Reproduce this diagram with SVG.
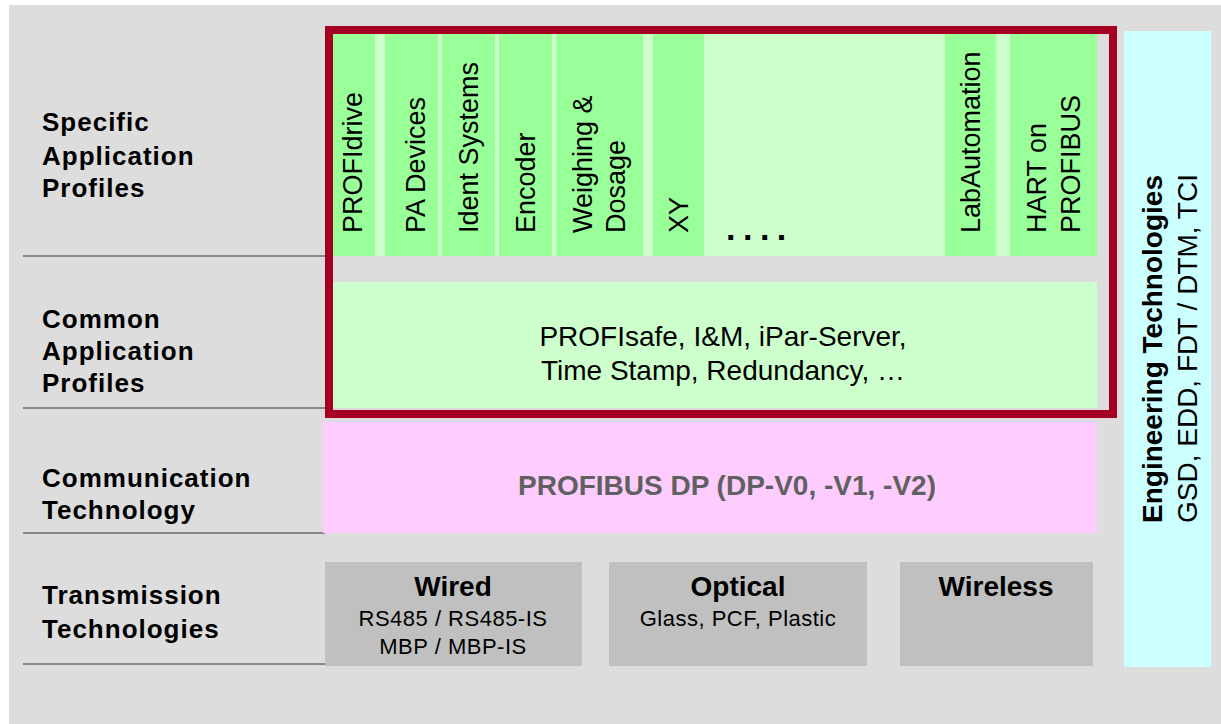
<svg xmlns="http://www.w3.org/2000/svg" width="1221" height="724" viewBox="0 0 1221 724">
<style>
.lbl{font-family:"Liberation Sans",Arial,sans-serif;font-weight:bold;font-size:26px;letter-spacing:1px;fill:#000}
.v{font-family:"Liberation Sans",Arial,sans-serif;font-size:27px;fill:#000}
.c{font-family:"Liberation Sans",Arial,sans-serif;font-size:28px;fill:#000;text-anchor:middle}
.b{font-family:"Liberation Sans",Arial,sans-serif;font-weight:bold;font-size:28px;fill:#000;text-anchor:middle}
.s{font-family:"Liberation Sans",Arial,sans-serif;font-size:22px;letter-spacing:0.5px;fill:#000;text-anchor:middle}
.dk{fill:#99FF99}
.lt{fill:#CCFFCC}
.tr{fill:#C0C0C0}
.sep{stroke:#888888;stroke-width:2}
</style>
<rect x="0" y="0" width="1221" height="724" fill="#FFFFFF"/>
<rect x="9" y="5" width="1212" height="719" fill="#DDDDDD"/>

<g id="separators">
<line class="sep" x1="23" y1="256" x2="325" y2="256"/>
<line class="sep" x1="23" y1="408" x2="325" y2="408"/>
<line class="sep" x1="23" y1="533" x2="325" y2="533"/>
<line class="sep" x1="23" y1="664" x2="325" y2="664"/>
</g>

<g id="row-labels">
<text class="lbl" x="42" y="131">Specific</text>
<text class="lbl" x="42" y="165">Application</text>
<text class="lbl" x="42" y="197">Profiles</text>
<text class="lbl" x="42" y="328">Common</text>
<text class="lbl" x="42" y="360">Application</text>
<text class="lbl" x="42" y="392">Profiles</text>
<text class="lbl" x="42" y="487">Communication</text>
<text class="lbl" x="42" y="519">Technology</text>
<text class="lbl" x="42" y="604">Transmission</text>
<text class="lbl" x="42" y="638">Technologies</text>
</g>

<g id="specific-profiles">
<rect class="lt" x="333" y="34" width="764" height="222"/>
<g id="profidrive"><rect class="dk" x="333" y="34" width="42" height="222"/><text class="v" transform="translate(362,233) rotate(-90)">PROFIdrive</text></g>
<g id="pa-devices"><rect class="dk" x="385" y="34" width="53" height="222"/><text class="v" transform="translate(425,233) rotate(-90)">PA Devices</text></g>
<g id="ident-systems"><rect class="dk" x="442" y="34" width="53" height="222"/><text class="v" transform="translate(478,233) rotate(-90)">Ident Systems</text></g>
<g id="encoder"><rect class="dk" x="499" y="34" width="53" height="222"/><text class="v" transform="translate(535,233) rotate(-90)">Encoder</text></g>
<g id="weighing"><rect class="dk" x="556" y="34" width="87" height="222"/><text class="v" transform="translate(592,233) rotate(-90)">Weighing &amp;</text><text class="v" transform="translate(625,233) rotate(-90)">Dosage</text></g>
<g id="xy"><rect class="dk" x="653" y="34" width="51" height="222"/><text class="v" transform="translate(688,233) rotate(-90)">XY</text></g>
<g id="more"><text class="v" x="726" y="240" style="font-weight:bold;font-size:34px;letter-spacing:7.5px">....</text></g>
<g id="labautomation"><rect class="dk" x="945" y="34" width="51" height="222"/><text class="v" transform="translate(980,233) rotate(-90)">LabAutomation</text></g>
<g id="hart"><rect class="dk" x="1010" y="34" width="87" height="222"/><text class="v" transform="translate(1046,233) rotate(-90)">HART on</text><text class="v" transform="translate(1080,233) rotate(-90)">PROFIBUS</text></g>
</g>

<g id="common-profiles">
<rect class="lt" x="325" y="282" width="772" height="126"/>
<text class="c" x="723" y="346">PROFIsafe, I&amp;M, iPar-Server,</text>
<text class="c" x="723" y="380">Time Stamp, Redundancy, …</text>
</g>

<g id="application-frame">
<rect x="329" y="30" width="784" height="384" fill="none" stroke="#A50021" stroke-width="8"/>
</g>

<g id="communication">
<rect x="323" y="422" width="774" height="111" fill="#FFCCFF"/>
<text class="b" x="727" y="495" style="fill:#606060">PROFIBUS DP (DP-V0, -V1, -V2)</text>
</g>

<g id="wired">
<rect class="tr" x="325" y="562" width="257" height="104"/>
<text class="b" x="453" y="596">Wired</text>
<text class="s" x="453" y="626">RS485 / RS485-IS</text>
<text class="s" x="453" y="654">MBP / MBP-IS</text>
</g>
<g id="optical">
<rect class="tr" x="609" y="562" width="258" height="104"/>
<text class="b" x="738" y="596">Optical</text>
<text class="s" x="738" y="626">Glass, PCF, Plastic</text>
</g>
<g id="wireless">
<rect class="tr" x="900" y="562" width="193" height="104"/>
<text class="b" x="996" y="596">Wireless</text>
</g>

<g id="engineering">
<rect x="1124" y="31" width="87" height="636" fill="#CCFFFF"/>
<text class="v" transform="translate(1162,523) rotate(-90)" style="font-weight:bold;font-size:28px">Engineering Technologies</text>
<text class="v" transform="translate(1197,523) rotate(-90)" style="font-size:28px">GSD, EDD, FDT / DTM, TCI</text>
</g>
</svg>
